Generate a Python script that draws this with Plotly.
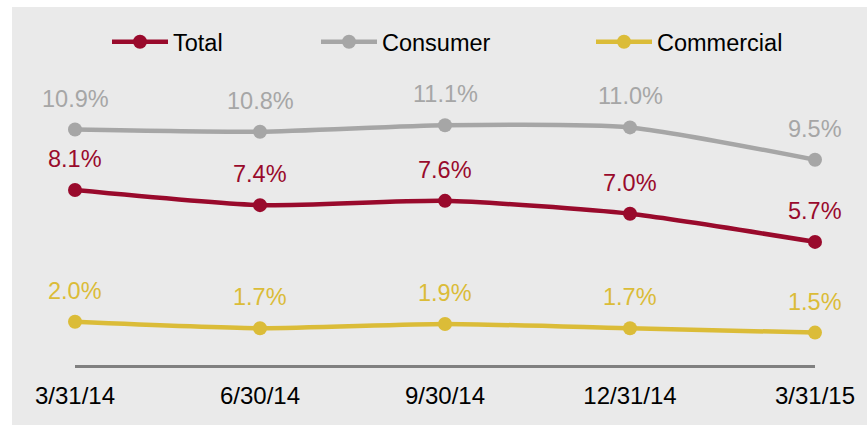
import plotly.graph_objects as go

dates = ["3/31/14", "6/30/14", "9/30/14", "12/31/14", "3/31/15"]
total = [8.1, 7.4, 7.6, 7.0, 5.7]
consumer = [10.9, 10.8, 11.1, 11.0, 9.5]
commercial = [2.0, 1.7, 1.9, 1.7, 1.5]

FONT = "Liberation Sans, Arial, sans-serif"
series = [
    ("Total", total, "#990A2C", "legend"),
    ("Consumer", consumer, "#A6A6A6", "legend2"),
    ("Commercial", commercial, "#DBBC38", "legend3"),
]

W, H = 867, 425
L, R, T, B = 75, 52, 62, 60
PW, PH = W - L - R, H - T - B

fig = go.Figure()
annotations = []
for name, vals, col, lg in series:
    fig.add_trace(go.Scatter(
        x=dates, y=vals, name=name, mode="lines+markers",
        line=dict(color=col, width=4.5, shape="spline", smoothing=0.6),
        marker=dict(color=col, size=14),
        cliponaxis=False, legend=lg,
    ))
    for d, v in zip(dates, vals):
        annotations.append(dict(
            x=d, y=v, text=f"{v:.1f}%", showarrow=False, yshift=31,
            xanchor="center", yanchor="middle",
            font=dict(color=col, size=23.5, family=FONT)))

leg_font = dict(size=23.5, color="#000000", family=FONT)
def leg(xpx):
    return dict(x=(xpx - L) / PW, y=1 + (T - 42) / PH, xanchor="left", yanchor="middle",
                orientation="h", bgcolor="rgba(0,0,0,0)", font=leg_font,
                itemwidth=56, borderwidth=0)

fig.update_layout(
    width=W, height=H,
    margin=dict(l=L, r=R, t=T, b=B),
    paper_bgcolor="white", plot_bgcolor="rgba(0,0,0,0)",
    showlegend=True,
    legend=leg(107), legend2=leg(316), legend3=leg(591),
    annotations=annotations,
    xaxis=dict(type="category", range=[0, 4], showgrid=False, zeroline=False,
               showline=True, linecolor="#808080", linewidth=3,
               ticks="", ticklabelstandoff=7,
               tickfont=dict(size=24, color="#000000", family=FONT)),
    yaxis=dict(range=[0, PH / 21.6], visible=False),
    shapes=[dict(type="rect", xref="paper", yref="paper",
                 x0=(12 - L) / PW, x1=(W - L) / PW,
                 y0=-(B) / PH, y1=1 + (T - 7) / PH,
                 fillcolor="#EAEAEA", line=dict(width=0), layer="below")],
)

fig.write_html("out.html", config={"displayModeBar": False},
               post_script="document.body.style.margin='0';")
